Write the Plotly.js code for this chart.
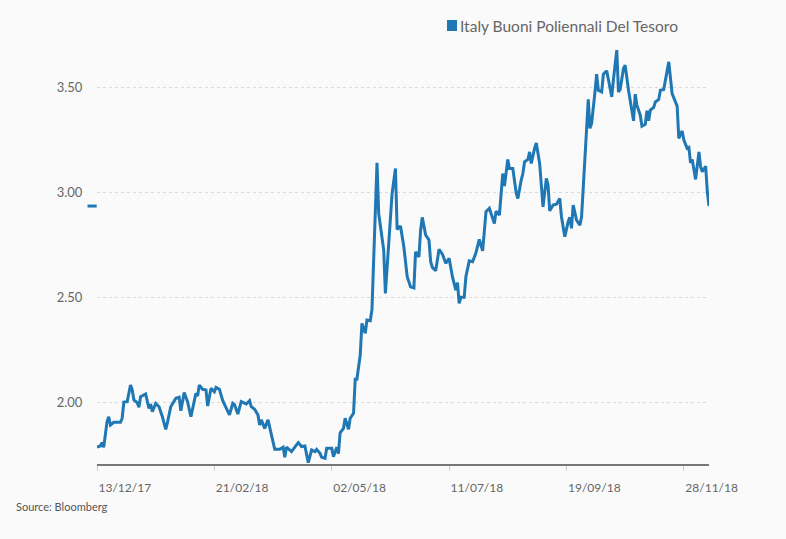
<!DOCTYPE html>
<html>
<head>
<meta charset="utf-8">
<script src="https://cdn.plot.ly/plotly-3.0.1.min.js"></script>
<style>
  html, body { margin: 0; padding: 0; background: #fafafa; }
  #chart { width: 786px; height: 539px; }
</style>
</head>
<body>
<div id="chart"></div>
<script>
const seriesName = "Italy Buoni Poliennali Del Tesoro";
const sourceText = "Source: Bloomberg";

const dates = [
  "2017-12-13","2017-12-15","2017-12-16","2017-12-17","2017-12-19","2017-12-20","2017-12-21","2017-12-23","2017-12-27","2017-12-28",
  "2017-12-29","2017-12-31","2018-01-02","2018-01-03","2018-01-04","2018-01-06","2018-01-07","2018-01-08","2018-01-11","2018-01-13",
  "2018-01-14","2018-01-15","2018-01-17","2018-01-19","2018-01-21","2018-01-23","2018-01-24","2018-01-26","2018-01-29","2018-01-31",
  "2018-02-01","2018-02-03","2018-02-05","2018-02-07","2018-02-10","2018-02-11","2018-02-12","2018-02-14","2018-02-16","2018-02-17",
  "2018-02-19","2018-02-21","2018-02-22","2018-02-24","2018-02-26","2018-02-27","2018-03-02","2018-03-04","2018-03-05","2018-03-07",
  "2018-03-09","2018-03-12","2018-03-14","2018-03-15","2018-03-17","2018-03-19","2018-03-20","2018-03-21","2018-03-23","2018-03-25",
  "2018-03-27","2018-03-29","2018-04-01","2018-04-03","2018-04-04","2018-04-05","2018-04-08","2018-04-10","2018-04-12","2018-04-14",
  "2018-04-16","2018-04-18","2018-04-20","2018-04-22","2018-04-23","2018-04-25","2018-04-26","2018-04-28","2018-04-29","2018-05-02",
  "2018-05-03","2018-05-05","2018-05-06","2018-05-07","2018-05-09","2018-05-10","2018-05-12","2018-05-13","2018-05-15","2018-05-16",
  "2018-05-17","2018-05-19","2018-05-20","2018-05-22","2018-05-23","2018-05-25","2018-05-26","2018-05-27","2018-05-29","2018-05-30",
  "2018-06-02","2018-06-03","2018-06-05","2018-06-07","2018-06-09","2018-06-10","2018-06-12","2018-06-14","2018-06-16","2018-06-18",
  "2018-06-20","2018-06-21","2018-06-23","2018-06-24","2018-06-25","2018-06-27","2018-06-29","2018-06-30","2018-07-01","2018-07-03",
  "2018-07-05","2018-07-07","2018-07-09","2018-07-11","2018-07-13","2018-07-15","2018-07-16","2018-07-17","2018-07-18","2018-07-20",
  "2018-07-21","2018-07-23","2018-07-25","2018-07-27","2018-07-29","2018-07-31","2018-08-02","2018-08-04","2018-08-07","2018-08-08",
  "2018-08-10","2018-08-12","2018-08-13","2018-08-15","2018-08-16","2018-08-18","2018-08-20","2018-08-21","2018-08-23","2018-08-24",
  "2018-08-25","2018-08-27","2018-08-28","2018-08-29","2018-08-31","2018-09-01","2018-09-03","2018-09-04","2018-09-05","2018-09-07",
  "2018-09-08","2018-09-09","2018-09-11","2018-09-13","2018-09-15","2018-09-16","2018-09-18","2018-09-20","2018-09-21","2018-09-22",
  "2018-09-23","2018-09-25","2018-09-27","2018-09-28","2018-09-30","2018-10-02","2018-10-03","2018-10-04","2018-10-06","2018-10-07",
  "2018-10-08","2018-10-10","2018-10-11","2018-10-13","2018-10-14","2018-10-16","2018-10-17","2018-10-19","2018-10-20","2018-10-21",
  "2018-10-23","2018-10-24","2018-10-26","2018-10-27","2018-10-29","2018-10-30","2018-10-31","2018-11-02","2018-11-03","2018-11-05",
  "2018-11-06","2018-11-07","2018-11-08","2018-11-10","2018-11-11","2018-11-13","2018-11-14","2018-11-16","2018-11-18","2018-11-19",
  "2018-11-21","2018-11-22","2018-11-24","2018-11-25","2018-11-27","2018-11-28","2018-11-30","2018-12-01","2018-12-02","2018-12-03",
  "2018-12-05","2018-12-07","2018-12-08","2018-12-09","2018-12-11","2018-12-12","2018-12-13"
];

const yields = [
  1.786,1.792,1.808,1.786,1.908,1.931,1.892,1.905,1.905,1.924,
  2.001,2.003,2.082,2.059,2.011,1.998,1.976,2.027,2.040,1.971,
  1.992,1.955,1.995,1.979,1.931,1.871,1.903,1.979,2.019,2.024,
  1.960,2.046,2.003,1.931,2.043,2.030,2.082,2.062,2.059,1.982,
  2.067,2.050,2.071,2.062,2.008,1.992,1.940,1.995,1.989,1.944,
  2.003,1.992,2.008,1.979,1.967,1.940,1.892,1.916,1.876,1.916,
  1.852,1.776,1.776,1.786,1.738,1.786,1.765,1.789,1.808,1.789,
  1.792,1.712,1.773,1.765,1.776,1.757,1.738,1.733,1.781,1.781,
  1.741,1.786,1.756,1.855,1.876,1.924,1.871,1.924,1.948,2.110,
  2.110,2.225,2.376,2.329,2.392,2.389,2.443,2.678,3.141,2.900,
  2.725,2.519,2.773,2.995,3.114,2.824,2.840,2.741,2.598,2.550,
  2.545,2.717,2.693,2.820,2.881,2.797,2.773,2.670,2.643,2.627,
  2.729,2.706,2.662,2.686,2.597,2.535,2.570,2.471,2.500,2.500,
  2.598,2.674,2.670,2.712,2.776,2.722,2.908,2.924,2.852,2.911,
  2.892,3.090,3.030,3.157,3.114,3.114,2.997,2.971,3.059,3.090,
  3.146,3.157,3.193,3.138,3.210,3.236,3.138,3.011,2.931,3.067,
  3.035,2.912,2.940,2.944,2.971,2.884,2.789,2.860,2.881,2.829,
  2.940,2.868,2.844,2.884,3.186,3.443,3.305,3.329,3.479,3.563,
  3.487,3.479,3.563,3.579,3.538,3.455,3.538,3.678,3.479,3.490,
  3.590,3.606,3.487,3.440,3.341,3.468,3.416,3.368,3.316,3.325,
  3.389,3.341,3.392,3.405,3.431,3.443,3.487,3.490,3.590,3.622,
  3.471,3.452,3.411,3.257,3.293,3.249,3.210,3.214,3.141,3.157,
  3.062,3.193,3.122,3.098,3.125,3.003,2.935
];

const yTickVals = [2.0, 2.5, 3.0, 3.5];
const xTickStart = "2017-12-13";
const xTickStepDays = 70;

const lineColor = "#1f78b4";
const textColor = "#666666";
const lastValue = yields[yields.length - 1];

const traces = [
  {
    type: "scatter",
    mode: "lines",
    name: seriesName,
    x: dates,
    y: yields,
    line: { color: lineColor, width: 3 },
    showlegend: false,
    hoverinfo: "x+y"
  }
];

const layout = {
  width: 786,
  height: 539,
  margin: { l: 97, r: 77, t: 35, b: 75, autoexpand: false },
  paper_bgcolor: "#fafafa",
  plot_bgcolor: "#fafafa",
  font: { family: "Lato, 'Open Sans', sans-serif", color: textColor, size: 13 },
  showlegend: false,
  xaxis: {
    type: "date",
    range: [dates[0], dates[dates.length - 1]],
    tick0: xTickStart,
    dtick: xTickStepDays * 86400000,
    tickformat: "%d/%m/%y",
    ticklabelposition: "outside right",
    ticklabelstandoff: 12,
    ticks: "outside",
    ticklen: 5,
    tickcolor: "#cccccc",
    showline: true,
    linecolor: "#777777",
    linewidth: 2,
    showgrid: false,
    zeroline: false,
    automargin: false,
    tickfont: { size: 12, color: textColor },
    fixedrange: true
  },
  yaxis: {
    range: [1.706, 3.75],
    tickvals: yTickVals,
    tickformat: ".2f",
    ticks: "outside",
    ticklen: 11,
    tickcolor: "rgba(0,0,0,0)",
    showline: false,
    showgrid: true,
    gridcolor: "#d9d9d9",
    griddash: "dot",
    gridwidth: 1,
    zeroline: false,
    automargin: false,
    tickfont: { size: 13, color: textColor },
    fixedrange: true
  },
  shapes: [
    {
      type: "line",
      xref: "paper", yref: "y",
      x0: -0.0155, x1: -0.0005,
      y0: lastValue, y1: lastValue,
      line: { color: lineColor, width: 3 }
    },
    {
      type: "rect",
      xref: "paper", yref: "paper",
      x0: 0.5719, x1: 0.5882,
      y0: 1.0093, y1: 1.0350,
      fillcolor: lineColor,
      line: { width: 0 }
    }
  ],
  annotations: [
    {
      text: seriesName,
      xref: "paper", yref: "paper",
      x: 0.5905, y: 1.0221,
      xanchor: "left", yanchor: "middle",
      showarrow: false,
      font: { size: 15.5, color: textColor }
    },
    {
      text: sourceText,
      xref: "paper", yref: "paper",
      x: -0.136, y: -0.1,
      xanchor: "left", yanchor: "middle",
      showarrow: false,
      font: { size: 11, color: "#555555" }
    }
  ]
};

Plotly.newPlot("chart", traces, layout, { displayModeBar: false, staticPlot: true });
</script>
</body>
</html>
